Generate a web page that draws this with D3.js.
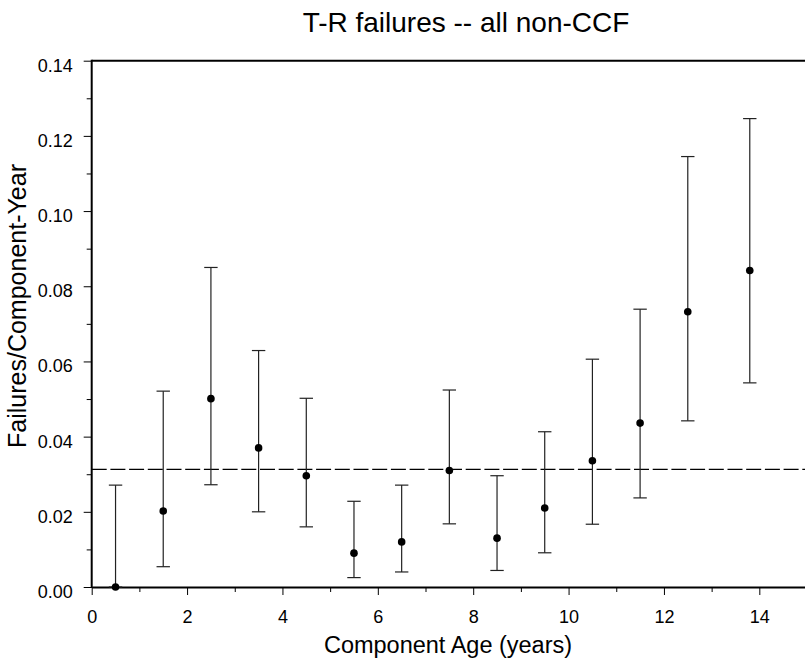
<!DOCTYPE html>
<html lang="en">
<head>
<meta charset="utf-8">
<script src="https://d3js.org/d3.v7.min.js"></script>
<style>
  body { margin: 0; background: #fff; }
  text { font-family: "Liberation Sans", Arial, sans-serif; fill: #000; }
</style>
</head>
<body>
<script type="text/javascript">

// data
var ages  = [0.5, 1.5, 2.5, 3.5, 4.5, 5.5, 6.5, 7.5, 8.5, 9.5, 10.5, 11.5, 12.5, 13.8];
var rate  = [0, 0.0202, 0.0501, 0.0370, 0.0296, 0.0090, 0.0120, 0.0310, 0.0130, 0.0210, 0.0336, 0.0436, 0.0732, 0.0842];
var lower = [0, 0.0054, 0.0272, 0.0200, 0.0160, 0.0025, 0.0040, 0.0168, 0.0044, 0.0091, 0.0167, 0.0237, 0.0442, 0.0543];
var upper = [0.0271, 0.0521, 0.0850, 0.0629, 0.0502, 0.0228, 0.0271, 0.0524, 0.0296, 0.0413, 0.0606, 0.0739, 0.1145, 0.1246];
var meanRate = 0.0313;

var xMajor = [0, 2, 4, 6, 8, 10, 12, 14];
var xMinor = [1, 3, 5, 7, 9, 11, 13];
var yMajor = [0, 0.02, 0.04, 0.06, 0.08, 0.10, 0.12, 0.14];
var yMinor = [0.01, 0.03, 0.05, 0.07, 0.09, 0.11, 0.13];

var title = "T-R failures -- all non-CCF";
var xTitle = "Component Age (years)";
var yTitle = "Failures/Component-Year";

var w = 805, h = 661;
var plotLeft = 91.7, plotTop = 60.7, plotBottom = 587, plotRight = 807;

var svg = d3.select("body").append("svg")
    .attr("width", w)
    .attr("height", h);

var x = d3.scaleLinear().domain([0, 15]).range([plotLeft, plotRight]);
var y = d3.scaleLinear().domain([0, 0.14]).range([plotBottom, plotTop]);

// top frame line
svg.append("line")
    .attr("x1", plotLeft).attr("x2", w)
    .attr("y1", plotTop).attr("y2", plotTop)
    .attr("stroke", "#000").attr("stroke-width", 2);

// minor ticks
svg.append("g")
    .attr("transform", "translate(" + plotLeft + ",0)")
    .call(d3.axisLeft(y).tickValues(yMinor).tickSize(5).tickSizeOuter(0).tickFormat(""))
    .call(function(g) { g.select(".domain").remove(); });
svg.append("g")
    .attr("transform", "translate(0," + plotBottom + ")")
    .call(d3.axisBottom(x).tickValues(xMinor).tickSize(5).tickSizeOuter(0).tickFormat(""))
    .call(function(g) { g.select(".domain").remove(); });

// major axes
var yAxis = svg.append("g")
    .attr("transform", "translate(" + plotLeft + ",0)")
    .call(d3.axisLeft(y).tickValues(yMajor).tickSize(8).tickSizeOuter(0)
        .tickPadding(11).tickFormat(d3.format(".2f")));
yAxis.selectAll("text").attr("dy", "0.58em");

var xAxis = svg.append("g")
    .attr("transform", "translate(0," + plotBottom + ")")
    .call(d3.axisBottom(x).tickValues(xMajor).tickSize(8).tickSizeOuter(0)
        .tickPadding(15).tickFormat(d3.format("d")));

svg.selectAll(".tick text")
    .attr("font-family", "'Liberation Sans', Arial, sans-serif")
    .attr("font-size", 18);
svg.selectAll(".domain").attr("stroke-width", 2);
yAxis.select(".domain").attr("d", "M0," + (plotTop - 1) + "V" + (plotBottom + 1));

// mean line
svg.append("line")
    .attr("x1", plotLeft).attr("x2", w)
    .attr("y1", y(meanRate)).attr("y2", y(meanRate))
    .attr("stroke", "#000").attr("stroke-width", 1.3)
    .attr("stroke-dasharray", "15,3.7");

// error bars
var idx = d3.range(ages.length);
var bars = svg.append("g").selectAll("g")
    .data(idx).enter().append("g");

bars.append("line")
    .attr("x1", function(i) { return x(ages[i]); })
    .attr("x2", function(i) { return x(ages[i]); })
    .attr("y1", function(i) { return y(lower[i]); })
    .attr("y2", function(i) { return y(upper[i]); })
    .attr("stroke", "#222").attr("stroke-width", 1.2);

bars.append("line")
    .attr("x1", function(i) { return x(ages[i]) - 6.7; })
    .attr("x2", function(i) { return x(ages[i]) + 6.7; })
    .attr("y1", function(i) { return y(upper[i]); })
    .attr("y2", function(i) { return y(upper[i]); })
    .attr("stroke", "#222").attr("stroke-width", 1.2);

bars.append("line")
    .attr("x1", function(i) { return x(ages[i]) - 6.7; })
    .attr("x2", function(i) { return x(ages[i]) + 6.7; })
    .attr("y1", function(i) { return y(lower[i]); })
    .attr("y2", function(i) { return y(lower[i]); })
    .attr("stroke", "#222").attr("stroke-width", 1.2);

bars.append("circle")
    .attr("cx", function(i) { return x(ages[i]); })
    .attr("cy", function(i) { return y(rate[i]); })
    .attr("r", 3.8)
    .attr("fill", "#000");

// titles
svg.append("text")
    .attr("x", 466).attr("y", 32)
    .attr("text-anchor", "middle")
    .style("font-size", "28px")
    .text(title);

svg.append("text")
    .attr("x", 448).attr("y", 653)
    .attr("text-anchor", "middle")
    .style("font-size", "23.5px")
    .text(xTitle);

svg.append("text")
    .attr("transform", "translate(26,306) rotate(-90)")
    .attr("text-anchor", "middle")
    .style("font-size", "25px")
    .text(yTitle);

</script>
</body>
</html>
